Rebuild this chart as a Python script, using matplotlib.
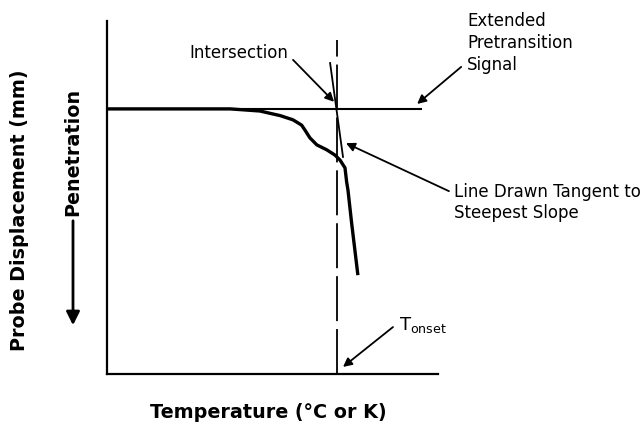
import matplotlib
matplotlib.use('Agg')
import matplotlib.pyplot as plt

# Probe displacement curve (temperature units, displacement units; down = penetration)
temp = [0, 28.1, 37.2, 46.2, 52.3, 56.2, 58.8, 59.8, 61.3, 63.4, 66.4, 68.9,
        70.4, 71.9, 72.4, 72.8, 73.9, 75.8]
disp = [24.9, 24.9, 24.9, 25.5, 26.8, 28.0, 29.5, 30.9, 33.1, 35.1, 36.5, 38.0,
        39.4, 41.6, 45.6, 47.9, 57.2, 72.0]

baseline_y = 24.8
baseline_x = [0, 94.9]
t_onset = 69.5
onset_y = [100, 5.4]
tangent_x = [67.4, 71.3]
tangent_y = [11.9, 38.5]

W, H = 642, 422
fig = plt.figure(figsize=(W / 100, H / 100), dpi=100)
ax = fig.add_axes([107 / W, 1 - 374 / H, 331 / W, 353 / H])
ax.set_xlim(0, 100)
ax.set_ylim(100, 0)
for s in ('top', 'right'):
    ax.spines[s].set_visible(False)
for s in ('left', 'bottom'):
    ax.spines[s].set_linewidth(1.6)
ax.set_xticks([])
ax.set_yticks([])

ax.plot(temp, disp, color='black', lw=2.4, solid_capstyle='butt',
        solid_joinstyle='round')
ax.plot(baseline_x, [baseline_y, baseline_y], color='black', lw=1.5)
ax.plot(tangent_x, tangent_y, color='black', lw=1.3)
ax.plot([t_onset, t_onset], onset_y, color='black', lw=1.3,
        dashes=(24.9, 4.4))

arrow = dict(arrowstyle='-|>', color='black', lw=1.3, mutation_scale=13,
             shrinkA=0, shrinkB=0)
ax.annotate('', xy=(68.6, 22.9), xytext=(56.2, 11.0), arrowprops=arrow,
            annotation_clip=False)
ax.annotate('', xy=(93.7, 23.5), xytext=(107.0, 13.0), arrowprops=arrow,
            annotation_clip=False)
ax.annotate('', xy=(72.2, 34.6), xytext=(103.3, 48.2), arrowprops=arrow,
            annotation_clip=False)
ax.annotate('', xy=(71.3, 98.0), xytext=(86.4, 86.7), arrowprops=arrow,
            annotation_clip=False)

fs = 12
ax.text(24.8, 9.1, 'Intersection', fontsize=fs, ha='left', va='center',
        clip_on=False)
ax.text(108.8, 6.2, 'Extended\nPretransition\nSignal', fontsize=fs,
        ha='left', va='center', linespacing=1.3, clip_on=False)
ax.text(104.8, 51.4, 'Line Drawn Tangent to\nSteepest Slope', fontsize=fs,
        ha='left', va='center', linespacing=1.2, clip_on=False)
ax.text(88.2, 86.0, r'T$_{\mathregular{onset}}$', fontsize=fs + 1,
        ha='left', va='center', clip_on=False)

fs_b = 13.8
fig.text(268 / W, 1 - 412 / H, 'Temperature (°C or K)', fontsize=fs_b,
         fontweight='bold', ha='center', va='center')
fig.text(20 / W, 1 - 210 / H, 'Probe Displacement (mm)', fontsize=fs_b,
         fontweight='bold', ha='center', va='center', rotation=90)
fig.text(73 / W, 1 - 152 / H, 'Penetration', fontsize=fs_b,
         fontweight='bold', ha='center', va='center', rotation=90)
fig.patches.append(matplotlib.patches.FancyArrowPatch(
    (73 / W, 1 - 218 / H), (73 / W, 1 - 328 / H), transform=fig.transFigure,
    arrowstyle='-|>', mutation_scale=20, lw=2, color='black'))

fig.savefig('out.png', dpi=100)
